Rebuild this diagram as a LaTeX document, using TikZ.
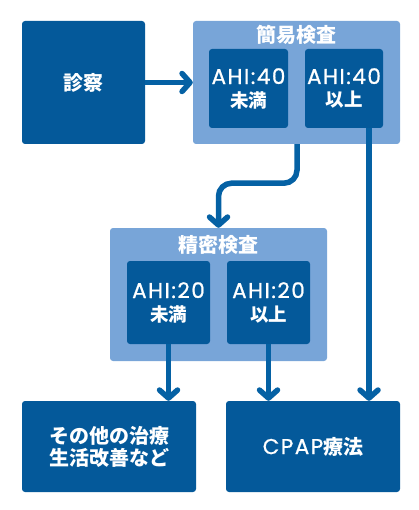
\documentclass[tikz,border=0pt]{standalone}
\usepackage{fontspec}
\setmainfont{Noto Sans CJK JP}
\newfontfamily\latf{Poppins}[LetterSpace=7,FakeBold=0.8]
\usetikzlibrary{arrows.meta}
\definecolor{dblue}{HTML}{04599A}
\definecolor{lblue}{HTML}{78A5D8}
\definecolor{ablue}{HTML}{0561A4}
\newcommand{\lat}[1]{{\latf\mdseries\fontsize{21.5}{22}\selectfont #1}}
\begin{document}
\begin{tikzpicture}[x=1pt,y=-1pt,
  darkbox/.style={fill=dblue,draw=none,rounded corners=3pt,text=white,align=center,inner sep=0pt,font=\fontsize{20}{24}\selectfont\bfseries},
  lightbox/.style={fill=lblue,draw=none,rounded corners=3pt,inner sep=0pt},
  innerbox/.style={fill=dblue,draw=none,rounded corners=3pt,text=white,align=center,inner sep=0pt,font=\fontsize{18.5}{22}\selectfont\bfseries},
  ttl/.style={text=white,inner sep=0pt,font=\fontsize{20}{24}\selectfont\bfseries},
  arr/.style={draw=ablue,line width=5.5pt,-{Straight Barb[length=8pt,width=18pt,round]}}
]
\useasboundingbox (0,0) rectangle (418,510);
% boxes
\node[darkbox,minimum width=123pt,minimum height=123pt] (shin) at (83.5,82.5) {診察};
\node[lightbox,minimum width=207pt,minimum height=123pt] (kan) at (296.5,82.5) {};
\node[ttl] (kant) at (296,35) {簡易検査};
\node[innerbox,minimum width=79pt,minimum height=79pt] (kan1) at (248.5,88.5) {\lat{AHI:40}\\[1pt]未満};
\node[innerbox,minimum width=78pt,minimum height=79pt] (kan2) at (344,88.5) {\lat{AHI:40}\\[1pt]以上};
\node[lightbox,minimum width=217pt,minimum height=133pt] (sei) at (218.5,294.5) {};
\node[ttl] (seit) at (218,245) {精密検査};
\node[innerbox,minimum width=83pt,minimum height=83pt] (sei1) at (168.5,302.5) {\lat{AHI:20}\\[1pt]未満};
\node[innerbox,minimum width=83pt,minimum height=83pt] (sei2) at (268.5,302.5) {\lat{AHI:20}\\[1pt]以上};
\node[darkbox,minimum width=174pt,minimum height=91pt] (other) at (109,446.5) {その他の治療\\[-2pt]生活改善など};
\node[darkbox,minimum width=174pt,minimum height=91pt] (cpap) at (313,446.5) {\lat{CPAP}療法};
% arrows
\draw[arr] (shin.east) -- (kan.west);
\draw[arr,rounded corners=13pt] ([xshift=0.5pt]kan.south) -- ([xshift=0.5pt,yshift=-39pt]kan.south) -| (sei.north);
\draw[arr] (sei1.south) -- (sei1.south |- other.north);
\draw[arr] (sei2.south) -- (sei2.south |- cpap.north);
\draw[arr] ([xshift=25pt]kan2.south) -- ([xshift=25pt]kan2.south |- cpap.north);
\end{tikzpicture}
\end{document}
